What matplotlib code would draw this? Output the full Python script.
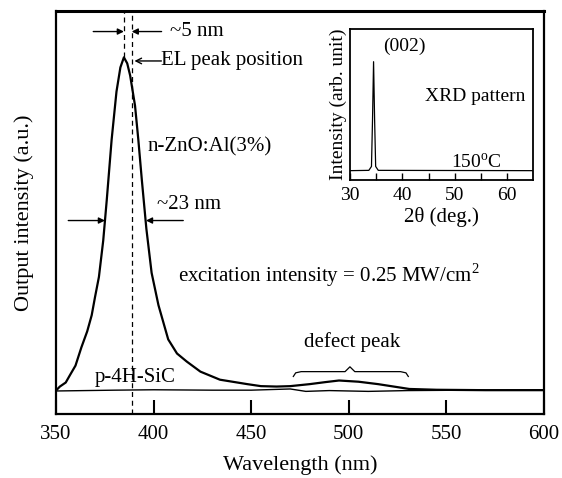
import numpy as np
import matplotlib
matplotlib.use("Agg")
import matplotlib.pyplot as plt

plt.rcParams['font.family'] = ['Liberation Serif', 'DejaVu Serif']
plt.rcParams['mathtext.fontset'] = 'custom'
plt.rcParams['mathtext.rm'] = 'Liberation Serif'

# n-ZnO:Al(3%) EL spectrum
zno_nm = [350, 352, 355, 357, 360, 363, 366, 368.3, 370, 372, 374.2, 376, 378.5,
          381, 383, 384.8, 386.5, 388, 390.5, 392.2, 394, 396.3, 399, 402.5,
          407.5, 412, 417, 424, 434, 448, 455, 463, 470, 480, 488, 495, 505,
          515, 523, 531, 545, 570, 600]
zno_int = [0.058, 0.068, 0.078, 0.095, 0.12, 0.165, 0.205, 0.245, 0.29, 0.34, 0.43,
           0.53, 0.68, 0.80, 0.86, 0.885, 0.87, 0.84, 0.765, 0.68, 0.58, 0.46,
           0.35, 0.27, 0.185, 0.15, 0.13, 0.105, 0.085, 0.074, 0.069, 0.068,
           0.069, 0.074, 0.079, 0.083, 0.080, 0.074, 0.068, 0.062, 0.060,
           0.059, 0.059]

# p-4H-SiC spectrum
sic_nm = [350, 380, 400, 430, 450, 470, 478, 490, 510, 530, 560, 600]
sic_int = [0.057, 0.059, 0.060, 0.059, 0.059, 0.062, 0.056, 0.058, 0.056, 0.058,
           0.059, 0.060]

# inset XRD pattern
xrd_2theta = [30, 33.6, 34.1, 34.3, 34.5, 34.7, 34.9, 35.4, 65]
xrd_int = [0.062, 0.064, 0.09, 0.40, 0.785, 0.40, 0.09, 0.064, 0.062]

peak_nm = 384.8
el_nm = 388.8
fwhm_left, fwhm_right, half_level = 375.1, 396.1, 0.48

fig = plt.figure(figsize=(5.62, 4.78), dpi=100)
ax = fig.add_axes([0.0996, 0.134, 0.8683, 0.843])

ax.plot(zno_nm, zno_int, color='black', lw=1.6)
ax.plot(sic_nm, sic_int, color='black', lw=1.0)

ax.set_xlim(350, 600)
ax.set_ylim(0, 1)
ax.set_xticks([350, 400, 450, 500, 550, 600])
ax.set_yticks([])
ax.tick_params(axis='x', direction='in', length=10, width=1.5, labelsize=15, pad=8)
for s in ax.spines.values():
    s.set_linewidth(1.6)
ax.spines['top'].set_linewidth(2.2)
ax.set_xlabel('Wavelength (nm)', fontsize=16, labelpad=8)
ax.set_ylabel('Output intensity (a.u.)', fontsize=16, labelpad=16)

# dashed guide lines
ax.plot([peak_nm, peak_nm], [0.885, 1], color='black', lw=0.9, ls=(0, (4, 3)))
ax.axvline(el_nm, color='black', lw=0.9, ls=(0, (4, 3)))

arr = dict(arrowstyle='-|>', color='black', lw=1.0, mutation_scale=9, shrinkA=0, shrinkB=0)
# ~5 nm
ax.annotate('', xy=(peak_nm, 0.949), xytext=(369.1, 0.949), arrowprops=arr)
ax.annotate('', xy=(el_nm, 0.949), xytext=(404.1, 0.949), arrowprops=arr)
ax.text(408.4, 0.949, '~5 nm', fontsize=15, va='center', ha='left')
# EL peak position
ax.annotate('', xy=(390.2, 0.876), xytext=(404.0, 0.876),
            arrowprops=dict(arrowstyle='->', color='black', lw=1.0, shrinkA=0, shrinkB=0))
ax.text(404.0, 0.876, 'EL peak position', fontsize=15, va='center', ha='left')
ax.text(396.8, 0.663, 'n-ZnO:Al(3%)', fontsize=15, va='center', ha='left')
# ~23 nm FWHM
ax.annotate('', xy=(fwhm_left, half_level), xytext=(356.3, half_level), arrowprops=arr)
ax.annotate('', xy=(fwhm_right, half_level), xytext=(415.2, half_level), arrowprops=arr)
ax.text(401.6, 0.519, '~23 nm', fontsize=15, va='center', ha='left')
ax.text(412.7, 0.345, 'excitation intensity = 0.25 MW/cm$^2$', fontsize=15,
        va='center', ha='left')
ax.text(370, 0.09, 'p-4H-SiC', fontsize=15, va='center', ha='left')

# defect peak brace
ax.text(501.5, 0.179, 'defect peak', fontsize=15, va='center', ha='center')
b0, b1, bm, by = 471.6, 530.5, 500.6, 0.105
bx = [b0, b0 + 1.2, b0 + 4, bm - 2.5, bm, bm + 2.5, b1 - 4, b1 - 1.2, b1]
byy = [by - 0.012, by - 0.003, by, by, by + 0.012, by, by, by - 0.003, by - 0.012]
ax.plot(bx, byy, color='black', lw=0.9)

# inset
ins = fig.add_axes([350 / 562, (478 - 180) / 478, 183.3 / 562, 150.7 / 478])
ins.plot(xrd_2theta, xrd_int, color='black', lw=0.9)
ins.set_xlim(30, 65)
ins.set_ylim(0, 1)
ins.set_xticks([30, 40, 50, 60])
ins.set_xticks([35, 45, 55], minor=True)
ins.set_yticks([])
ins.tick_params(axis='x', which='both', direction='in', length=5, width=1.0,
                labelsize=14, pad=5)
for s in ins.spines.values():
    s.set_linewidth(1.3)
ins.set_xlabel('2θ (deg.)', fontsize=15, labelpad=2)
ins.set_ylabel('Intensity (arb. unit)', fontsize=14, labelpad=2)
ins.text(0.18, 0.885, '(002)', fontsize=14, transform=ins.transAxes, va='center', ha='left')
ins.text(0.955, 0.553, 'XRD pattern', fontsize=14, transform=ins.transAxes,
         va='center', ha='right')
ins.text(0.83, 0.115, '150$^{\\rm o}$C', fontsize=14, transform=ins.transAxes,
         va='center', ha='right')

fig.savefig('out.png', dpi=100)
